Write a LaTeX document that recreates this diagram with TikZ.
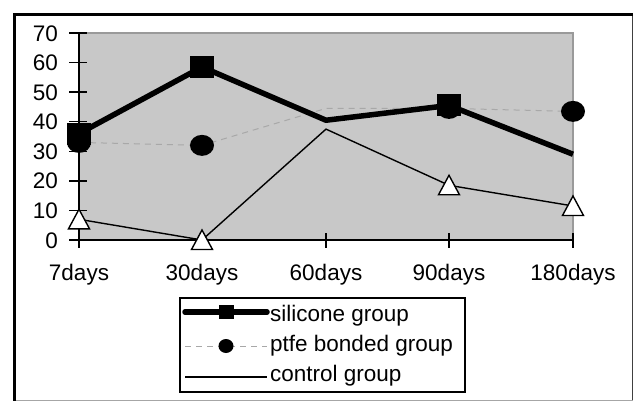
\documentclass[tikz,border=0pt]{standalone}
\usepackage{fontspec}
\setmainfont{Liberation Sans}
\usetikzlibrary{shapes.geometric}
\definecolor{plotbg}{HTML}{C8C8C8}
\definecolor{plotedge}{HTML}{9A9A9A}
\definecolor{dashgray}{HTML}{A8A8A8}
\tikzset{
  lbl/.style={font=\fontsize{22.5}{27}\selectfont, inner sep=0pt},
  sqmark/.style={rectangle, fill=black, minimum width=24pt, minimum height=22pt, inner sep=0pt},
  cmark/.style={ellipse, fill=black, minimum width=24pt, minimum height=21pt, inner sep=0pt},
  tmark/.style={fill=white, draw=black, line width=1.4pt, line join=miter},
  sqsmall/.style={rectangle, fill=black, minimum width=15pt, minimum height=14pt, inner sep=0pt},
  csmall/.style={ellipse, fill=black, minimum width=15pt, minimum height=14pt, inner sep=0pt},
  silline/.style={line width=5.5pt, line join=round},
  ptfeline/.style={draw=dashgray, line width=1pt, dash pattern=on 6pt off 5pt},
  ctrlline/.style={line width=1.4pt},
  axisline/.style={line width=1.5pt}
}
\begin{document}
\begin{tikzpicture}[x=1pt,y=-1pt]
\useasboundingbox (0,0) rectangle (635,401);
\fill[white] (0,0) rectangle (635,401);
% outer frame
\draw[line width=0.8pt, draw=black!75] (632.5,15) -- (632.5,400.5);
\draw[line width=0.8pt, draw=black!35] (14,400.5) -- (632.5,400.5);
\draw[line width=3pt] (14,401) -- (14,15) -- (633,15);
% plot area
\fill[plotbg] (79,33) rectangle (573,240);
\draw[plotedge, line width=1.2pt] (79,33) -- (573,33) -- (573,240);
% data coordinates
\coordinate (s1) at (79,{240-36*2.957});
\coordinate (s2) at (202,{240-58.5*2.957});
\coordinate (s3) at (326,{240-40.5*2.957});
\coordinate (s4) at (449,{240-45.5*2.957});
\coordinate (s5) at (573,{240-29*2.957});
\coordinate (p1) at (79,{240-33*2.957});
\coordinate (p2) at (202,{240-32*2.957});
\coordinate (p3) at (326,{240-44.5*2.957});
\coordinate (p4) at (449,{240-44.5*2.957});
\coordinate (p5) at (573,{240-43.5*2.957});
\coordinate (c1) at (79,{240-7*2.957});
\coordinate (c2) at (202,{240-0*2.957});
\coordinate (c3) at (326,{240-37.5*2.957});
\coordinate (c4) at (449,{240-18.5*2.957});
\coordinate (c5) at (573,{240-11.5*2.957});
% axes
\draw[axisline] (79,33) -- (79,240) -- (573,240);
\foreach \v in {0,10,...,70} {
  \draw[axisline] (69,{240-\v*2.957}) -- (87,{240-\v*2.957});
  \node[lbl, anchor=base east] (yl\v) at (58,{240-\v*2.957+8}) {\v};
}
\foreach \x/\t/\n in {79/7days/1,202/30days/2,326/60days/3,449/90days/4,573/180days/5} {
  \draw[axisline] (\x,233) -- (\x,248);
  \node[lbl, anchor=base] (xl\n) at (\x,280) {\t};
}
% lines
\draw[ptfeline] (p1) -- (p2) -- (p3) -- (p4) -- (p5);
\draw[ctrlline] (c1) -- (c2) -- (c3) -- (c4) -- (c5);
\draw[silline] (s1) -- (s2) -- (s3) -- (s4) -- (s5);
% markers
\node[cmark] (mp1) at (p1) {};
\node[cmark] (mp2) at (p2) {};
\node[cmark] (mp4) at (p4) {};
\node[cmark] (mp5) at (p5) {};
\node[sqmark] (ms1) at (s1) {};
\node[sqmark] (ms2) at (s2) {};
\node[sqmark] (ms4) at (s4) {};
\foreach \c in {c1,c2,c4,c5} {
  \draw[tmark] ([xshift=-10.5pt,yshift=-9.5pt]\c) -- ([xshift=10.5pt,yshift=-9.5pt]\c) -- ([yshift=10pt]\c) -- cycle;
}
% legend
\draw[line width=1.5pt, fill=white] (180,298) rectangle (465,392);
\coordinate (la1) at (185,312);
\coordinate (lb1) at (267,312);
\coordinate (la2) at (185,346);
\coordinate (lb2) at (267,346);
\coordinate (la3) at (185,377);
\coordinate (lb3) at (267,377);
\draw[silline, line cap=round] (la1) -- (lb1);
\node[sqsmall] (lm1) at (226,312) {};
\draw[ptfeline] (la2) -- (lb2);
\node[csmall] (lm2) at (226,346) {};
\draw[ctrlline] (la3) -- (lb3);
\node[lbl, anchor=base west] (lt1) at (270,321) {silicone group};
\node[lbl, anchor=base west] (lt2) at (270,351.5) {ptfe bonded group};
\node[lbl, anchor=base west] (lt3) at (270,381.5) {control group};
\end{tikzpicture}
\end{document}
